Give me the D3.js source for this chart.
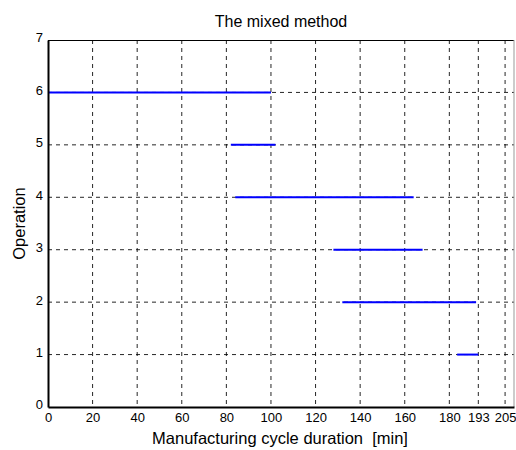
<!DOCTYPE html>
<html>
<head>
<meta charset="utf-8">
<script src="https://cdn.jsdelivr.net/npm/d3@7"></script>
<style>
body { margin: 0; background: #fff; }
svg text { font-family: "Liberation Sans", Arial, sans-serif; fill: #000; }
</style>
</head>
<body>
<div class="main"></div>
<script>
// operations and their start / end times (min)
var operations = [1, 2, 3, 4, 5, 6];
var starts = [183.5, 132, 128, 84, 82, 0];
var ends = [193, 192, 168, 164, 102, 100];
var xTicks = [0, 20, 40, 60, 80, 100, 120, 140, 160, 180, 193, 205];
var yTicks = [0, 1, 2, 3, 4, 5, 6, 7];

var W = 516, H = 450;
var margin = {top: 40, right: 2, bottom: 43, left: 48};
var width = W - margin.left - margin.right,
    height = H - margin.top - margin.bottom;

var svg = d3.select(".main").append("svg")
  .attr("width", W).attr("height", H);
var g = svg.append("g")
  .attr("transform", "translate(" + margin.left + "," + margin.top + ")");

var x = d3.scaleLinear().domain([0, 209]).range([0, width]);
var y = d3.scaleLinear().domain([0, 7]).range([height, 0]);

// grid
g.selectAll(".vgrid").data(xTicks.slice(1))
  .enter().append("line")
  .attr("x1", function(d) { return x(d); })
  .attr("x2", function(d) { return x(d); })
  .attr("y1", 0).attr("y2", height)
  .style("stroke", "#000").style("stroke-width", 1)
  .style("stroke-dasharray", "4,4").style("opacity", 0.85);
g.selectAll(".hgrid").data(yTicks.slice(1, 7))
  .enter().append("line")
  .attr("x1", 0).attr("x2", width)
  .attr("y1", function(d) { return y(d); })
  .attr("y2", function(d) { return y(d); })
  .style("stroke", "#000").style("stroke-width", 1)
  .style("stroke-dasharray", "4,4").style("opacity", 0.85);

// segments
g.selectAll(".seg").data(operations)
  .enter().append("line")
  .attr("class", "seg")
  .attr("x1", function(d, i) { return x(starts[i]); })
  .attr("x2", function(d, i) { return x(ends[i]); })
  .attr("y1", function(d) { return y(d); })
  .attr("y2", function(d) { return y(d); })
  .style("stroke", "#0000ff").style("stroke-width", 2);

// frame: top black, right grey
g.append("line").attr("x1", 0).attr("x2", width).attr("y1", 0.5).attr("y2", 0.5)
  .style("stroke", "#000");
g.append("line").attr("x1", width).attr("x2", width).attr("y1", 0).attr("y2", height)
  .style("stroke", "#999");

// axes
var xAxis = d3.axisBottom(x).tickValues(xTicks).tickFormat(d3.format("d"))
  .tickSize(0).tickPadding(6);
var yAxis = d3.axisLeft(y).tickValues(yTicks).tickFormat(d3.format("d"))
  .tickSize(0).tickPadding(5);

var gx = g.append("g").attr("transform", "translate(0," + height + ")").call(xAxis);
gx.select(".domain").style("stroke", "#000").style("stroke-width", 2);
gx.selectAll("text").style("font-size", "13px");

var gy = g.append("g").call(yAxis);
gy.select(".domain").style("stroke", "#000").style("stroke-width", 2);
gy.selectAll("text").style("font-size", "13px").attr("dy", "0.15em");

// labels
svg.append("text")
  .attr("x", 281).attr("y", 27)
  .style("text-anchor", "middle").style("font-size", "16px")
  .text("The mixed method");

svg.append("text")
  .attr("x", 280).attr("y", 444)
  .style("text-anchor", "middle").style("font-size", "16.5px")
  .style("white-space", "pre")
  .text("Manufacturing cycle duration  [min]");

svg.append("text")
  .attr("transform", "translate(25," + (margin.top + height / 2) + ") rotate(-90)")
  .style("text-anchor", "middle").style("font-size", "16.5px")
  .text("Operation");
</script>
</body>
</html>
